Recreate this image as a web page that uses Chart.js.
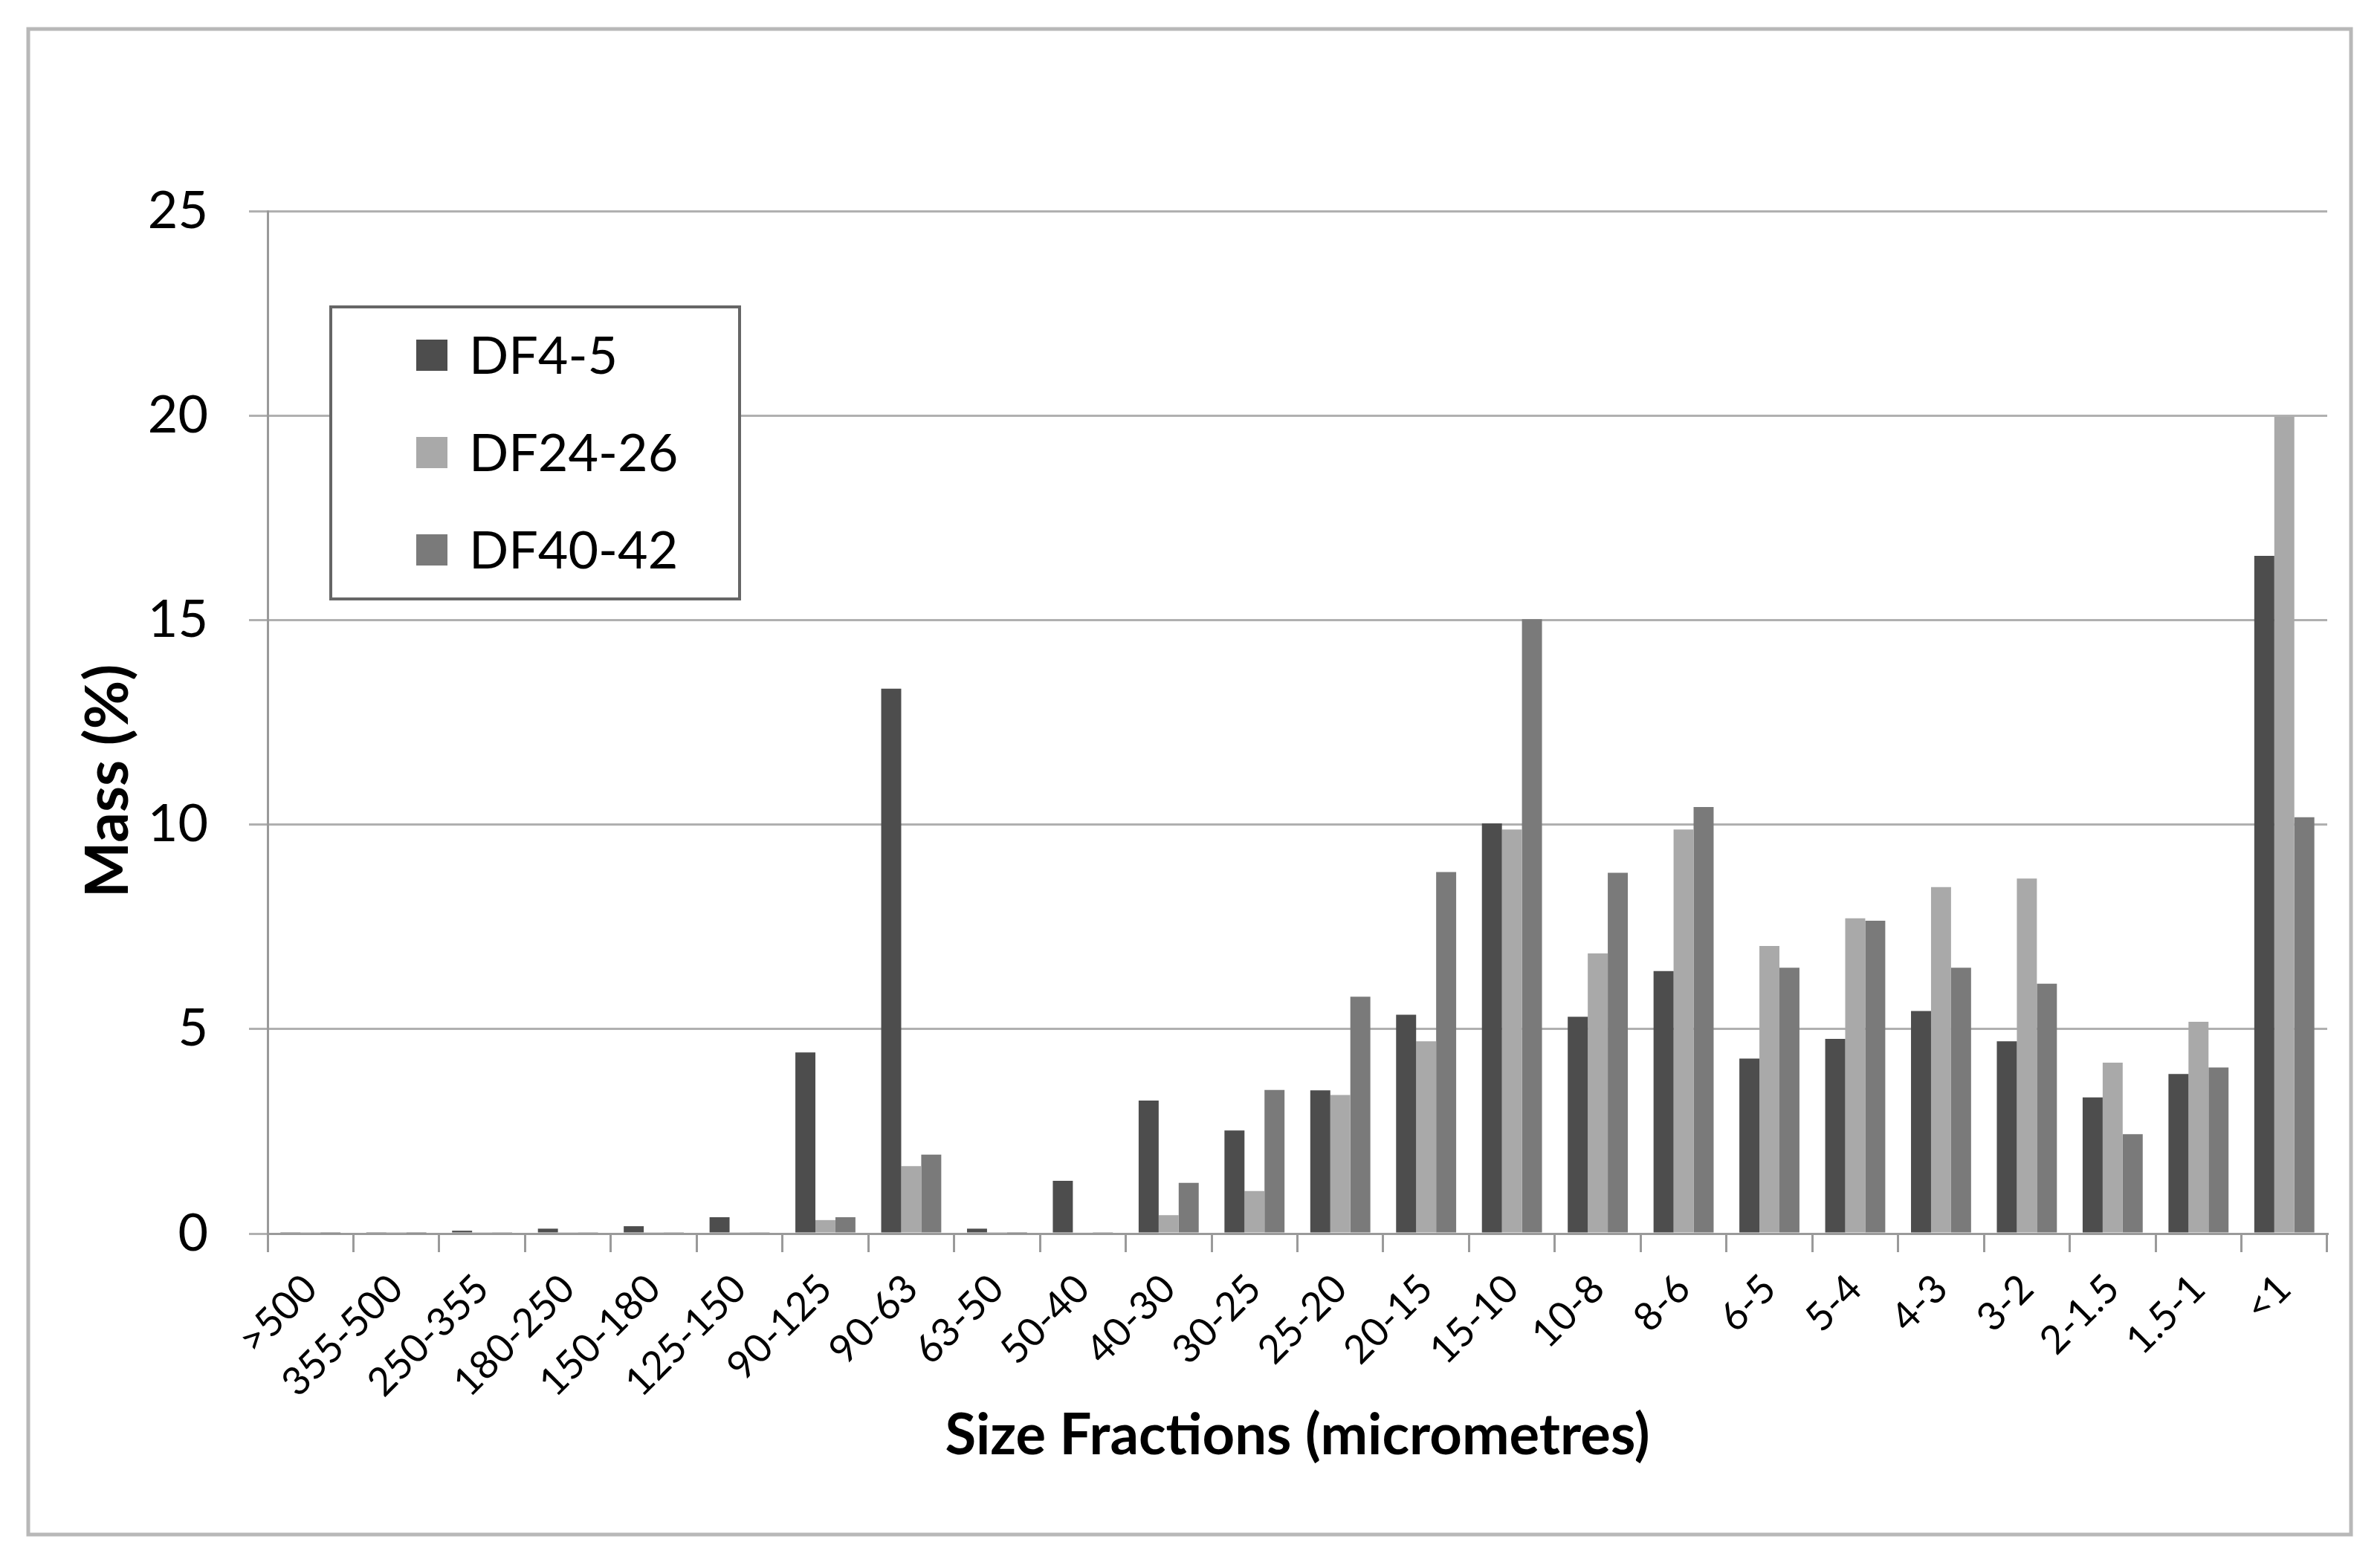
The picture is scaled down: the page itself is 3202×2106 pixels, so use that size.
<!DOCTYPE html>
<html>
<head>
<meta charset="utf-8">
<script src="https://cdn.jsdelivr.net/npm/chart.js@4.4.1/dist/chart.umd.min.js"></script>
<style>
  html, body { margin: 0; padding: 0; background: #fff; }
  canvas { display: block; }
</style>
</head>
<body>
<canvas id="massChart" width="3202" height="2106"></canvas>
<script>
const sizeFractions = ['>500', '355-500', '250-355', '180-250', '150-180', '125-150', '90-125', '90-63', '63-50', '50-40', '40-30', '30-25', '25-20', '20-15', '15-10', '10-8', '8-6', '6-5', '5-4', '4-3', '3-2', '2-1.5', '1.5-1', '<1']

const df4to5 = [0.02, 0.02, 0.07, 0.12, 0.18, 0.40, 4.43, 13.32, 0.12, 1.29, 3.25, 2.52, 3.50, 5.35, 10.03, 5.30, 6.42, 4.28, 4.76, 5.44, 4.70, 3.33, 3.90, 16.57]
const df24to26 = [0.01, 0.01, 0.02, 0.02, 0.02, 0.02, 0.33, 1.65, 0.01, 0.03, 0.45, 1.04, 3.39, 4.70, 9.88, 6.85, 9.88, 7.03, 7.71, 8.47, 8.68, 4.18, 5.18, 19.97]
const df40to42 = [0.01, 0.01, 0.02, 0.02, 0.02, 0.02, 0.40, 1.93, 0.01, 0.02, 1.24, 3.51, 5.79, 8.84, 15.02, 8.82, 10.43, 6.50, 7.65, 6.50, 6.11, 2.43, 4.06, 10.18]

const yTicks = [0, 5, 10, 15, 20, 25]
const yTitle = 'Mass (%)'

const FONT = 'Lato, "Open Sans", sans-serif'

// white page + grey frame round the whole chart
const framePlugin = {
  id: 'frame',
  beforeDraw(chart) {
    const ctx = chart.ctx
    ctx.save()
    ctx.fillStyle = '#ffffff'
    ctx.fillRect(0, 0, chart.width, chart.height)
    ctx.strokeStyle = '#b8b8b8'
    ctx.lineWidth = 5
    ctx.strokeRect(38, 39, 3125, 2026)
    ctx.restore()
  }
}

// y title sits a bit below the axis middle in the original, so draw it by hand
const yTitlePlugin = {
  id: 'yTitle',
  afterDraw(chart) {
    const ctx = chart.ctx
    ctx.save()
    ctx.translate(146, 1051)
    ctx.rotate(-Math.PI / 2)
    ctx.font = 'bold 80px ' + FONT
    ctx.fillStyle = '#000000'
    ctx.textAlign = 'center'
    ctx.textBaseline = 'middle'
    ctx.fillText(yTitle, 0, 0)
    ctx.restore()
  }
}

// legend box that sits inside the plot area, like the Excel original
const insideLegend = {
  id: 'insideLegend',
  afterDraw(chart) {
    const ctx = chart.ctx
    const box = { x: 445, y: 413, w: 550, h: 393 }
    ctx.save()
    ctx.fillStyle = '#ffffff'
    ctx.fillRect(box.x, box.y, box.w, box.h)
    ctx.strokeStyle = '#666666'
    ctx.lineWidth = 4
    ctx.strokeRect(box.x, box.y, box.w, box.h)
    ctx.font = '70px ' + FONT
    ctx.textBaseline = 'middle'
    ctx.textAlign = 'left'
    chart.data.datasets.forEach((ds, i) => {
      const cy = 478 + i * 131
      ctx.fillStyle = ds.backgroundColor
      ctx.fillRect(560, cy - 21, 42, 42)
      ctx.fillStyle = '#000000'
      ctx.fillText(ds.label, 631, cy + 2)
    })
    ctx.restore()
  }
}

function initMassChart() {
  const canvas = document.getElementById('massChart')

  new Chart(canvas, {
    type: 'bar',
    data: {
      labels: sizeFractions,
      datasets: [
        { label: 'DF4-5', data: df4to5, backgroundColor: '#4d4d4d' },
        { label: 'DF24-26', data: df24to26, backgroundColor: '#a9a9a9' },
        { label: 'DF40-42', data: df40to42, backgroundColor: '#7a7a7a' }
      ]
    },
    options: {
      responsive: false,
      animation: false,
      devicePixelRatio: 1,
      layout: {
        padding: { top: 284, left: 0, right: 71, bottom: 0 }
      },
      datasets: {
        bar: {
          categoryPercentage: 0.7,
          barPercentage: 1.0,
          borderWidth: 0
        }
      },
      plugins: {
        legend: { display: false },
        tooltip: { enabled: false }
      },
      scales: {
        x: {
          afterFit(scale) { scale.height = 446 },
          grid: {
            offset: true,
            drawOnChartArea: false,
            drawTicks: true,
            tickLength: 25,
            color: '#9a9a9a',
            lineWidth: 3
          },
          border: { display: true, color: '#9a9a9a', width: 3 },
          ticks: {
            autoSkip: false,
            minRotation: 45,
            maxRotation: 45,
            padding: 18,
            color: '#000000',
            font: { family: FONT, size: 53 }
          },
          title: {
            display: true,
            text: 'Size Fractions (micrometres)',
            color: '#000000',
            font: { family: FONT, size: 76, weight: 'bold' },
            padding: { top: 0, bottom: 128 }
          }
        },
        y: {
          min: 0,
          max: 25,
          afterFit(scale) { scale.width = 360 },
          afterBuildTicks(scale) {
            scale.ticks = yTicks.map(v => ({ value: v }))
          },
          grid: {
            color: '#b0b0b0',
            lineWidth: 3,
            drawTicks: true,
            tickLength: 25
          },
          border: { display: true, color: '#9a9a9a', width: 3 },
          ticks: {
            padding: 55,
            color: '#000000',
            font: { family: FONT, size: 70 }
          },
          title: { display: false }
        }
      }
    },
    plugins: [framePlugin, yTitlePlugin, insideLegend]
  })
}

document.fonts.load('70px Lato').then(() => document.fonts.load('bold 80px Lato')).then(initMassChart, initMassChart)
</script>
</body>
</html>
